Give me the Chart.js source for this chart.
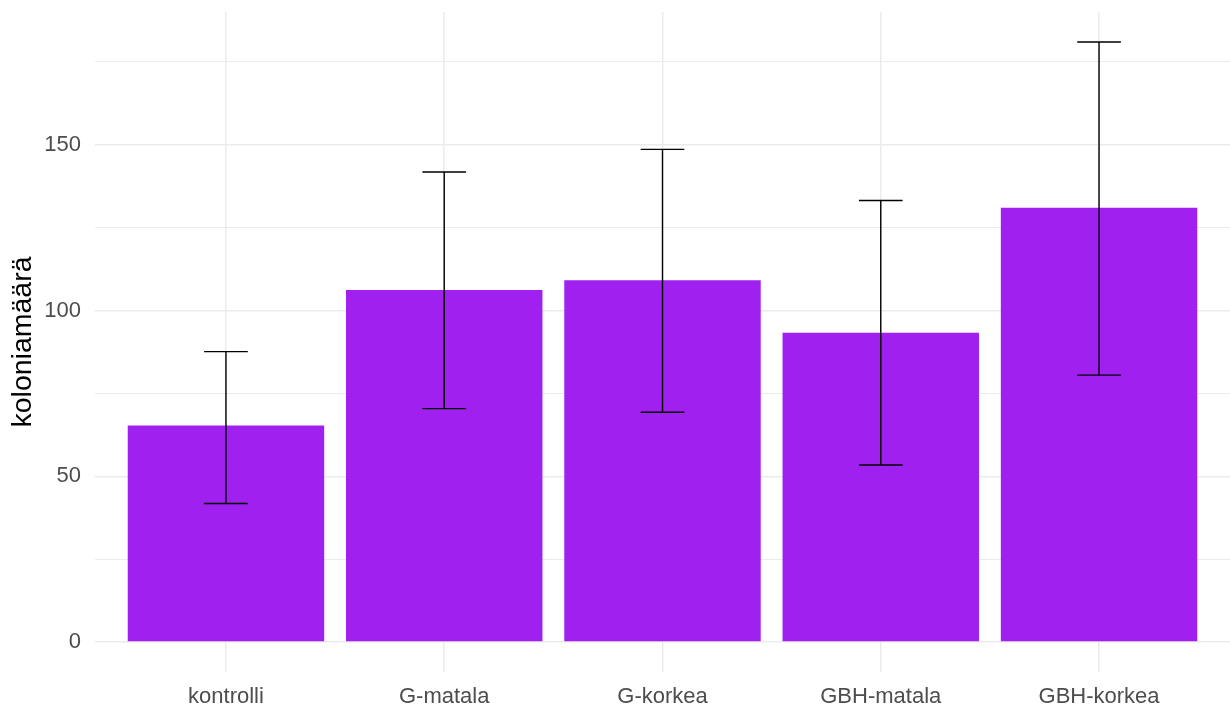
<!DOCTYPE html>
<html>
<head>
<meta charset="utf-8">
<script src="https://cdn.jsdelivr.net/npm/chart.js@4/dist/chart.umd.min.js"></script>
<style>
  html, body { margin: 0; padding: 0; background: #ffffff; }
  #wrap { width: 1230px; height: 709px; position: relative; }
</style>
</head>
<body>
<div id="wrap"><canvas id="chart" width="1230" height="709"></canvas></div>
<script>
// Colony counts per treatment group, with error bar limits
const categories = ['kontrolli', 'G-matala', 'G-korkea', 'GBH-matala', 'GBH-korkea'];
const means = [65.3, 106.2, 109.1, 93.3, 131.0];
const upper = [87.6, 141.8, 148.6, 133.2, 181.0];
const lower = [41.8, 70.4, 69.3, 53.4, 80.5];
const yTicks = [0, 25, 50, 75, 100, 125, 150, 175];
const yLabelled = [0, 50, 100, 150];

const FONT = '"Liberation Sans", Arial, sans-serif';
const GRID = '#EBEBEB';

const errorBars = {
  id: 'errorBars',
  afterDatasetsDraw(chart) {
    const { ctx, scales: { x, y } } = chart;
    const half = (x.getPixelForValue(1.1) - x.getPixelForValue(1));
    ctx.save();
    ctx.strokeStyle = '#000000';
    ctx.lineWidth = 1.4;
    categories.forEach((c, i) => {
      const cx = x.getPixelForValue(i + 1);
      const yu = y.getPixelForValue(upper[i]);
      const yl = y.getPixelForValue(lower[i]);
      ctx.beginPath();
      ctx.moveTo(cx, yu); ctx.lineTo(cx, yl);
      ctx.moveTo(cx - half, yu); ctx.lineTo(cx + half, yu);
      ctx.moveTo(cx - half, yl); ctx.lineTo(cx + half, yl);
      ctx.stroke();
    });
    ctx.restore();
  }
};

new Chart(document.getElementById('chart'), {
  type: 'bar',
  data: {
    datasets: [{
      data: means.map((v, i) => ({ x: i + 1, y: v })),
      backgroundColor: '#A020F0',
      borderWidth: 0,
      categoryPercentage: 1,
      barPercentage: 0.9
    }]
  },
  options: {
    responsive: false,
    animation: false,
    devicePixelRatio: 1,
    layout: { padding: { top: 12, right: 0, left: 0, bottom: 0 } },
    plugins: { legend: { display: false }, tooltip: { enabled: false } },
    scales: {
      x: {
        type: 'linear',
        min: 0.4,
        max: 5.6,
        offset: false,
        afterBuildTicks(scale) { scale.ticks = categories.map((c, i) => ({ value: i + 1 })); },
        afterFit(scale) {
          scale.height = 37;
          scale.paddingLeft = 0; scale.paddingRight = 0;
        },
        ticks: {
          autoSkip: false,
          maxRotation: 0,
          padding: 12,
          color: '#4D4D4D',
          font: { family: FONT, size: 22 },
          callback: (v) => categories[Math.round(v) - 1] || ''
        },
        grid: { color: GRID, lineWidth: 1.5, drawTicks: false, offset: false },
        border: { display: false }
      },
      y: {
        type: 'linear',
        min: -9.05,
        max: 190.05,
        afterBuildTicks(scale) { scale.ticks = yTicks.map(v => ({ value: v })); },
        afterFit(scale) {
          scale.width = 95;
          scale.paddingTop = 0; scale.paddingBottom = 0;
        },
        ticks: {
          autoSkip: false,
          padding: 14,
          color: '#4D4D4D',
          font: { family: FONT, size: 22 },
          callback: (v) => yLabelled.includes(v) ? String(v) : ''
        },
        grid: {
          color: GRID,
          drawTicks: false,
          lineWidth: (ctx) => (ctx.tick && yLabelled.includes(ctx.tick.value)) ? 1.5 : 1
        },
        border: { display: false },
        title: {
          display: true,
          text: 'koloniamäärä',
          color: '#000000',
          font: { family: FONT, size: 28.5 },
          padding: { top: 6, bottom: 0 }
        }
      }
    }
  },
  plugins: [errorBars]
});
</script>
</body>
</html>
